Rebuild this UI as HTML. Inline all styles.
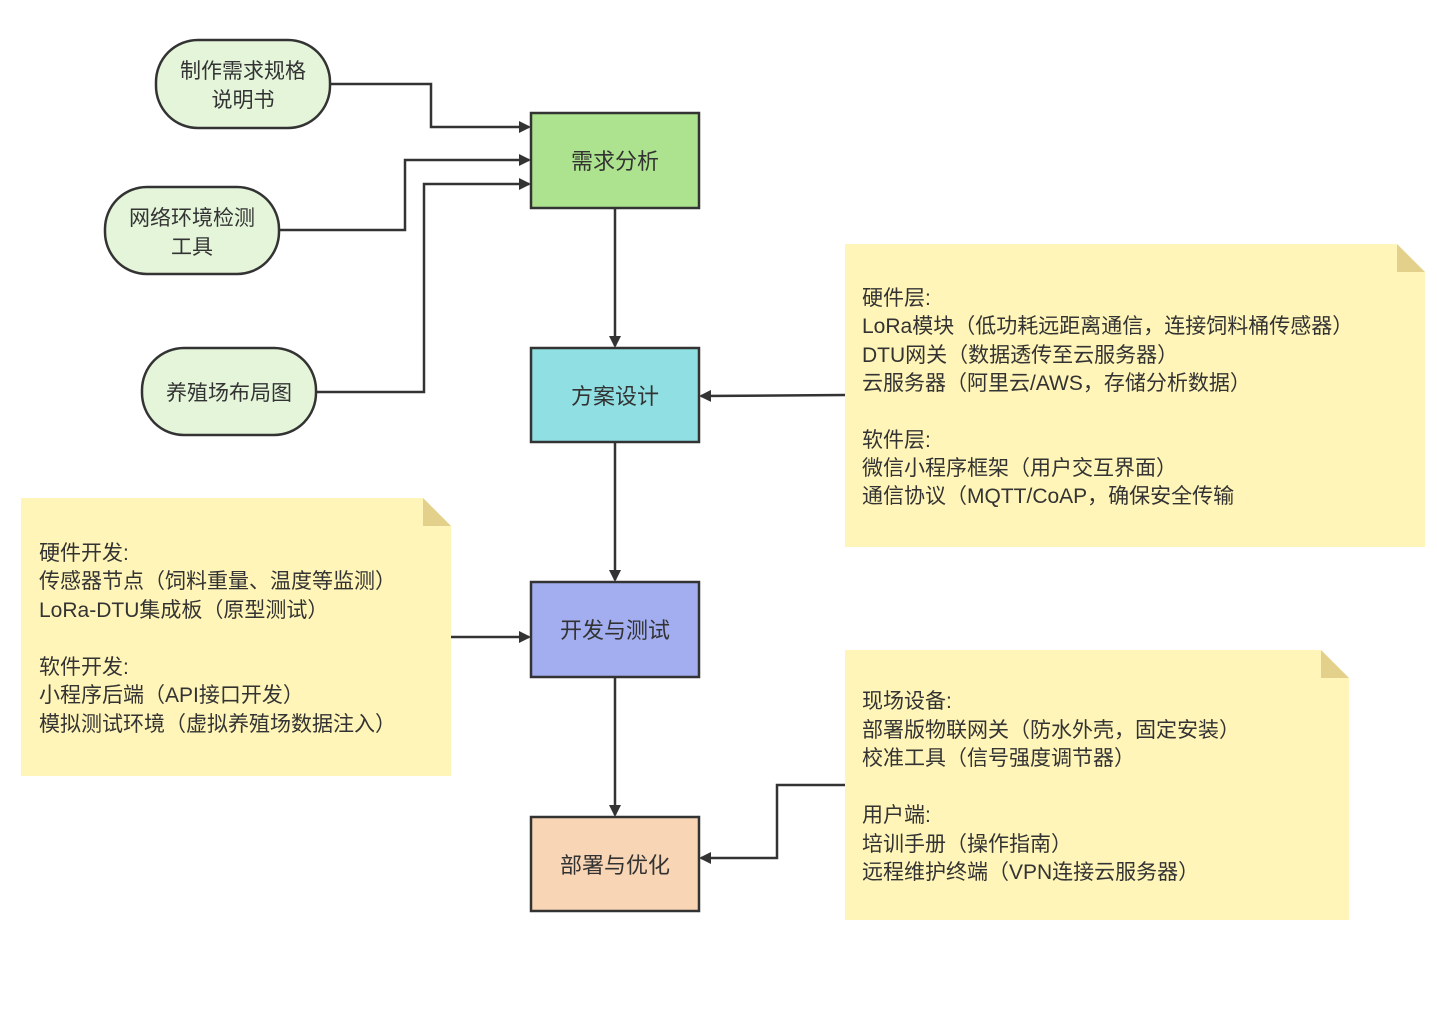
<!DOCTYPE html>
<html><head><meta charset="utf-8"><style>
html,body{margin:0;padding:0;background:#fff;}
svg text{font-family:"Liberation Sans","Noto Sans CJK SC",sans-serif;fill:#333;}
</style></head><body>
<svg width="1437" height="1017" viewBox="0 0 1437 1017" xmlns="http://www.w3.org/2000/svg">
<defs><marker id="a" markerWidth="12" markerHeight="12" refX="10" refY="6" orient="auto" markerUnits="userSpaceOnUse"><path d="M0,0 L12,6 L0,12 z" fill="#333"/></marker></defs>
<!-- notes -->
<path d="M845,244 H1397 L1425,272 V547 H845 Z" fill="#fff5b8"/>
<path d="M1397,244 L1425,272 H1397 Z" fill="#e3d08a"/>
<path d="M21,498 H423 L451,526 V776 H21 Z" fill="#fff5b8"/>
<path d="M423,498 L451,526 H423 Z" fill="#e3d08a"/>
<path d="M845,650 H1321 L1349,678 V920 H845 Z" fill="#fff5b8"/>
<path d="M1321,650 L1349,678 H1321 Z" fill="#e3d08a"/>
<g font-size="21">
<text x="862" y="305">硬件层:</text>
<text x="862" y="333">LoRa模块（低功耗远距离通信，连接饲料桶传感器）</text>
<text x="862" y="362">DTU网关（数据透传至云服务器）</text>
<text x="862" y="390">云服务器（阿里云/AWS，存储分析数据）</text>
<text x="862" y="447">软件层:</text>
<text x="862" y="475">微信小程序框架（用户交互界面）</text>
<text x="862" y="503">通信协议（MQTT/CoAP，确保安全传输</text>
<text x="39" y="560">硬件开发:</text>
<text x="39" y="588">传感器节点（饲料重量、温度等监测）</text>
<text x="39" y="617">LoRa-DTU集成板（原型测试）</text>
<text x="39" y="674">软件开发:</text>
<text x="39" y="702">小程序后端（API接口开发）</text>
<text x="39" y="731">模拟测试环境（虚拟养殖场数据注入）</text>
<text x="862" y="708">现场设备:</text>
<text x="862" y="737">部署版物联网关（防水外壳，固定安装）</text>
<text x="862" y="765">校准工具（信号强度调节器）</text>
<text x="862" y="822">用户端:</text>
<text x="862" y="851">培训手册（操作指南）</text>
<text x="862" y="879">远程维护终端（VPN连接云服务器）</text>
</g>
<!-- connectors -->
<g fill="none" stroke="#333" stroke-width="2.5">
<path d="M330,84 H431 V127 H529" marker-end="url(#a)"/>
<path d="M279,230 H405 V160 H529" marker-end="url(#a)"/>
<path d="M316,392 H424 V184 H529" marker-end="url(#a)"/>
<path d="M615,208 V346" marker-end="url(#a)"/>
<path d="M615,442 V580" marker-end="url(#a)"/>
<path d="M615,677 V815" marker-end="url(#a)"/>
<path d="M845,395 L701,396" marker-end="url(#a)"/>
<path d="M451,637 H529" marker-end="url(#a)"/>
<path d="M845,785 H777 V858 H701" marker-end="url(#a)"/>
</g>
<!-- pills -->
<g fill="#e4f5da" stroke="#333" stroke-width="2.5">
<rect x="156" y="40" width="174" height="88" rx="42"/>
<rect x="105" y="187" width="174" height="87" rx="42"/>
<rect x="142" y="348" width="174" height="87" rx="42"/>
</g>
<g font-size="21" text-anchor="middle">
<text x="243" y="78">制作需求规格</text>
<text x="243" y="107">说明书</text>
<text x="192" y="225">网络环境检测</text>
<text x="192" y="254">工具</text>
<text x="229" y="400">养殖场布局图</text>
</g>
<!-- boxes -->
<g stroke="#333" stroke-width="2.5">
<rect x="531" y="113" width="168" height="95" fill="#ade38f"/>
<rect x="531" y="348" width="168" height="94" fill="#8fdfe3"/>
<rect x="531" y="582" width="168" height="95" fill="#a3aef0"/>
<rect x="531" y="817" width="168" height="94" fill="#f8d5b4"/>
</g>
<g font-size="22" text-anchor="middle">
<text x="615" y="169">需求分析</text>
<text x="615" y="404">方案设计</text>
<text x="615" y="638">开发与测试</text>
<text x="615" y="873">部署与优化</text>
</g>
</svg>
</body></html>
